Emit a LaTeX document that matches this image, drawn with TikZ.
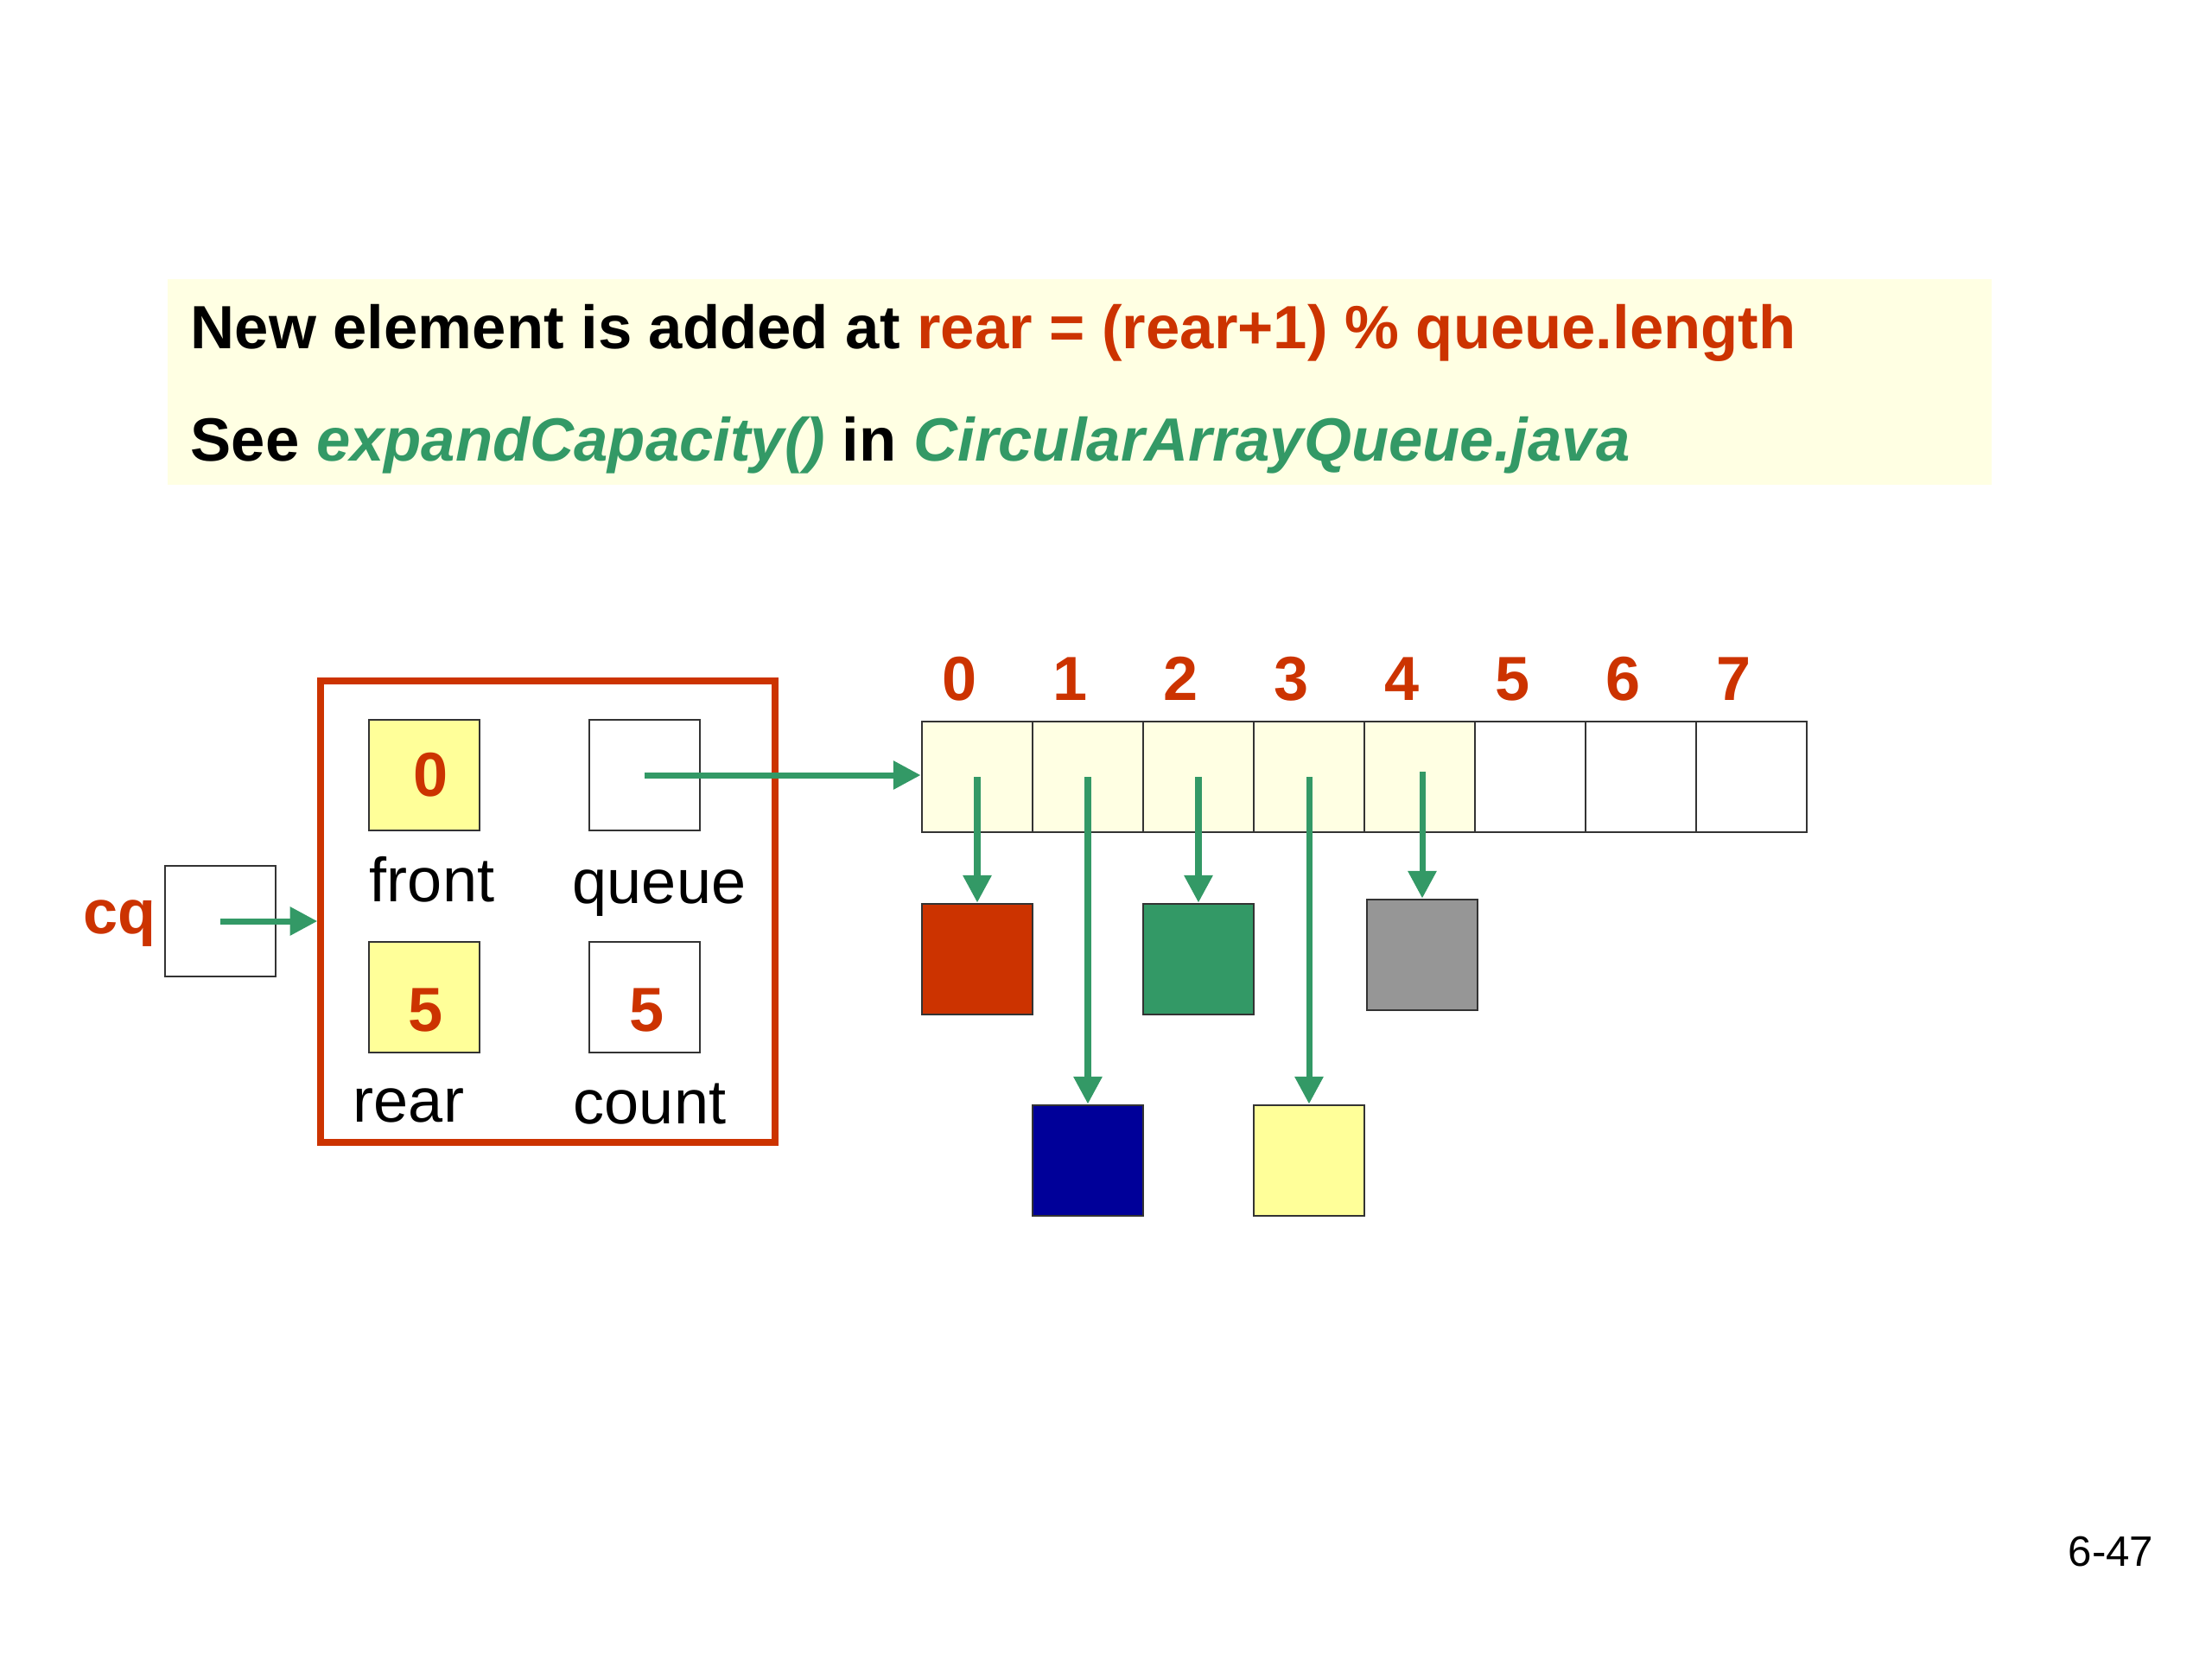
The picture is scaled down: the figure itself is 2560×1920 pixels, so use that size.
\documentclass[tikz,border=0pt]{standalone}
\usepackage{fontspec}
\setmainfont{Liberation Sans}
\usetikzlibrary{arrows.meta}
\definecolor{pptred}{HTML}{CC3300}
\definecolor{pptgreen}{HTML}{339966}
\definecolor{pptblue}{HTML}{000099}
\definecolor{pptyellow}{HTML}{FFFF99}
\definecolor{pptgray}{HTML}{969696}
\definecolor{cream}{HTML}{FFFFE3}
\definecolor{boxline}{HTML}{333333}
\begin{document}
\begin{tikzpicture}[x=0.01cm,y=-0.01cm,
  every node/.style={inner sep=0pt},
  txt/.style={font=\fontsize{20.5}{24}\selectfont},
  btxt/.style={font=\fontsize{20.5}{24}\selectfont\bfseries},
  titletxt/.style={font=\fontsize{20.1}{24}\selectfont\bfseries},
  redtxt/.style={btxt, text=pptred},
  cellbox/.style={draw=boxline, line width=0.8pt, minimum width=1.28cm, minimum height=1.28cm},
  varbox/.style={draw=boxline, line width=0.8pt, minimum width=1.28cm, minimum height=1.28cm},
  ptr/.style={draw=pptgreen, line width=2pt, -{Triangle[length=9pt,width=9pt]}},
]
\useasboundingbox[fill=white] (0,0) rectangle (2560,1920);
% title box
\fill[cream] (194,323) rectangle (2305,561);
\node[titletxt, anchor=base west] (l1) at (220,403) {New element is added at \textcolor{pptred}{rear = (rear+1) \% queue.length}};
\node[titletxt, anchor=base west] (l2) at (220,533) {See \textcolor{pptgreen}{\itshape expandCapacity()} in \textcolor{pptgreen}{\itshape CircularArrayQueue.java}};
% object frame
\node[draw=pptred, line width=2.3pt, minimum width=5.25cm, minimum height=5.34cm] (obj) at (634,1055) {};
% reference variable
\node[varbox] (cq) at (255,1066) {};
\node[redtxt, anchor=base west] (cqlab) at (96,1080) {cq};
% fields
\node[varbox, fill=pptyellow] (front) at (491,897) {};
\node[varbox] (queue) at (746,897) {};
\node[varbox, fill=pptyellow] (rear) at (491,1154) {};
\node[varbox] (count) at (746,1154) {};
\node[redtxt] (frontval) at (499,897) {0};
\node[redtxt] (rearval) at (493,1169) {5};
\node[redtxt] (countval) at (749,1169) {5};
\node[txt, anchor=base] (frontlab) at (500,1043) {front};
\node[txt, anchor=base] (queuelab) at (763,1045) {queue};
\node[txt, anchor=base] (rearlab) at (473,1298) {rear};
\node[txt, anchor=base] (countlab) at (752,1300) {count};
% array
\foreach \i in {0,...,7}{
  \ifnum\i<5
    \node[cellbox, fill=cream] (c\i) at ({1131+128*\i},899) {};
  \else
    \node[cellbox] (c\i) at ({1131+128*\i},899) {};
  \fi
  \node[redtxt, anchor=base] (idx\i) at ({1111+128*\i},810) {\i};
}
% elements
\node[varbox, fill=pptred] (o0) at (c0.center |- 0,1110) {};
\node[varbox, fill=pptblue] (o1) at (c1.center |- 0,1343) {};
\node[varbox, fill=pptgreen] (o2) at (c2.center |- 0,1110) {};
\node[varbox, fill=pptyellow] (o3) at (c3.center |- 0,1343) {};
\node[varbox, fill=pptgray] (o4) at (1646,1105) {};
% pointers
\draw[ptr] (cq.center) -- (cq.center -| obj.west);
\draw[ptr] (queue.center) -- (queue.center -| c0.west);
\draw[ptr] (c0.center) -- (o0.north);
\draw[ptr] (c1.center) -- (o1.north);
\draw[ptr] (c2.center) -- (o2.north);
\draw[ptr] (c3.center) -- (o3.north);
\draw[ptr] (o4.north |- 0,893) -- (o4.north);
% page number
\node[font=\fontsize{14}{16}\selectfont, anchor=base west] (page) at (2393,1812) {6-47};
\end{tikzpicture}
\end{document}
